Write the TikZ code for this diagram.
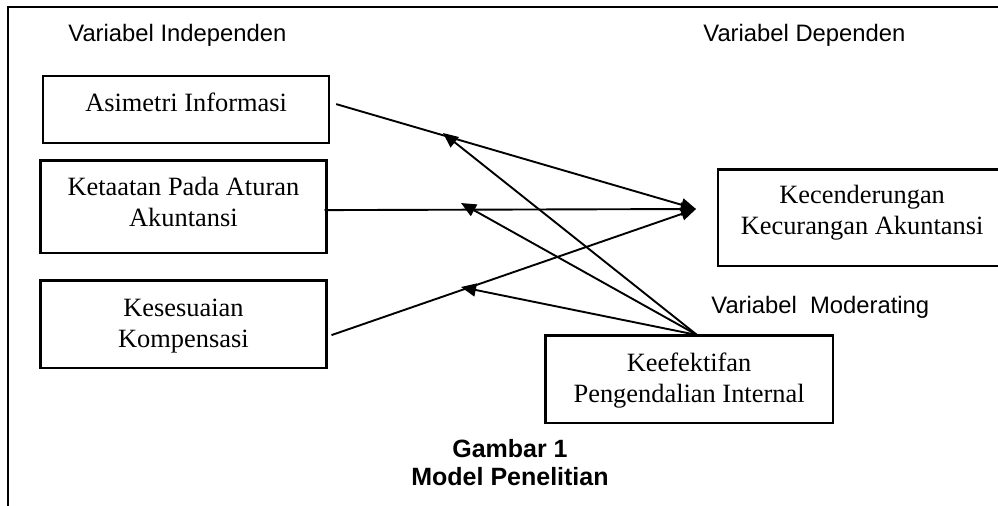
\documentclass[tikz,border=0pt]{standalone}
\usepackage{fontspec}
\setmainfont{Liberation Serif}
\setsansfont{Liberation Sans}
\usetikzlibrary{arrows.meta,calc}
\begin{document}
\begin{tikzpicture}[x=0.5pt,y=-0.5pt,
  box/.style={draw,line width=1.1pt,inner sep=0pt,anchor=north west,
    minimum width=143pt,font=\fontsize{13.2}{15.5}\selectfont},
  lbl/.style={inner sep=0pt,anchor=base west,font=\sffamily\fontsize{11.9}{14}\selectfont},
  arr/.style={line width=0.95pt,-{Triangle[length=7.5pt,width=6.5pt]}},
]
\useasboundingbox (0,0) rectangle (998,505);
\draw[line width=1.1pt] (8,506) -- (8,7) -- (1010,7);

\node[lbl] (vi) at (68,41) {Variabel Independen};
\node[lbl] (vd) at (703,41.5) {Variabel Dependen};
\node[lbl] (vm) at (711,313) {Variabel\ \ Moderating};

\node[box,text height=17.5pt,text depth=16pt] (asim) at (42,75) {Asimetri Informasi};
\node[box,text height=17.5pt,text depth=28.7pt] (ket) at (39.3,159.3)
  {\begin{tabular}[t]{@{}c@{}}Ketaatan Pada Aturan\\Akuntansi\end{tabular}};
\node[box,text height=17.85pt,text depth=25.85pt] (kes) at (39.3,279.3)
  {\begin{tabular}[t]{@{}c@{}}Kesesuaian\\Kompensasi\end{tabular}};
\node[box,minimum width=144pt,text height=17.2pt,text depth=31.15pt] (kec) at (717,168.3)
  {\begin{tabular}[t]{@{}c@{}}Kecenderungan\\Kecurangan Akuntansi\end{tabular}};
\node[box,minimum width=143.7pt,text height=18.2pt,text depth=25.5pt] (keef) at (544.3,334.3)
  {\begin{tabular}[t]{@{}c@{}}Keefektifan\\Pengendalian Internal\end{tabular}};

\node[inner sep=0pt,anchor=base,font=\sffamily\bfseries\fontsize{12.5}{14}\selectfont] (cap) at (510,457)
  {\begin{tabular}[t]{@{}c@{}}Gambar 1\\Model Penelitian\end{tabular}};

\coordinate (kin) at (696,209);
\draw[arr] ($(asim.east)+(6,-5.5)$) -- (kin);
\draw[arr] ($(ket.east)+(-3,3.5)$) -- (kin);
\draw[arr] ($(kes.east)+(4,11)$) -- (kin);

\coordinate (msrc) at ($(keef.north)+(8,0.7)$);
\coordinate (m1) at (443,133);
\coordinate (m2) at (461,203);
\coordinate (m3) at (461,287);
\draw[arr] (msrc) -- (m1);
\draw[arr] (msrc) -- (m2);
\draw[arr] (msrc) -- (m3);
\end{tikzpicture}
\end{document}
